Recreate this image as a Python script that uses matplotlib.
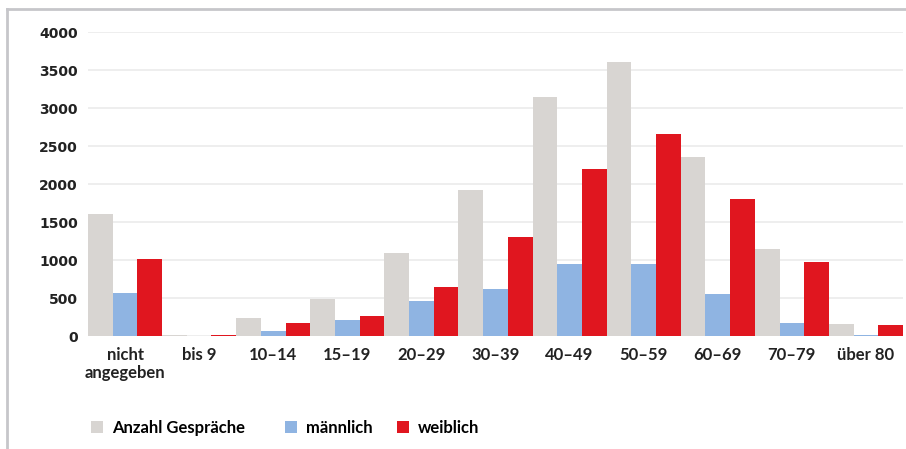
import numpy as np
from matplotlib import pyplot as plt
from matplotlib.lines import Line2D
from matplotlib.patches import Patch

# age groups and counts
categories = ["nicht\nangegeben", "bis 9", "10–14", "15–19", "20–29", "30–39",
              "40–49", "50–59", "60–69", "70–79", "über 80"]
anzahl = [1610, 10, 238, 485, 1094, 1920, 3150, 3610, 2355, 1147, 160]
maennlich = [572, 3, 70, 212, 463, 617, 952, 952, 556, 176, 10]
weiblich = [1015, 18, 168, 268, 639, 1305, 2200, 2655, 1805, 979, 150]

series = [("Anzahl Gespräche", anzahl, "#d8d5d2"),
          ("männlich", maennlich, "#8fb4e2"),
          ("weiblich", weiblich, "#e0161f")]

fig = plt.figure(figsize=(9.06, 4.49), dpi=100)
ax = fig.add_axes([88 / 906, 1 - 336 / 449, 815 / 906, (336 - 32) / 449])

x = np.arange(len(categories))
w = 1 / 3
for i, (name, vals, col) in enumerate(series):
    ax.bar(x - 0.5 + w * (i + 0.5), vals, width=w, color=col, zorder=2, label=name)

ax.set_xlim(-0.5, len(categories) - 0.5)
ax.set_ylim(0, 4000)
ax.set_yticks(range(0, 4001, 500))
ax.grid(axis="y", color="#ebebeb", linewidth=1.2, zorder=0)
ax.set_axisbelow(True)
for s in ax.spines.values():
    s.set_visible(False)

ax.set_xticks(x)
ax.set_xticklabels(categories, fontfamily="Lato", fontweight="bold", fontsize=12,
                   color="#222222", linespacing=1.15)
for lab in ax.get_yticklabels():
    lab.set_fontfamily("DejaVu Sans")
    lab.set_fontweight("bold")
    lab.set_fontsize(10)
    lab.set_color("#222222")
ax.tick_params(axis="both", length=0)
ax.tick_params(axis="y", pad=7.2)
ax.tick_params(axis="x", pad=8)

# frame lines of the original graphic
fig.add_artist(Line2D([7 / 906, 1], [1 - 9 / 449, 1 - 9 / 449], color="#c6c6ca",
                      linewidth=2, transform=fig.transFigure))
fig.add_artist(Line2D([7 / 906, 7 / 906], [0, 1 - 9 / 449], color="#c6c6ca",
                      linewidth=2, transform=fig.transFigure))

# legend entries placed one by one (spacing in the original is uneven)
legend_x = [88, 282, 394]
for (name, _, col), lx in zip(series, legend_x):
    fig.legend([Patch(facecolor=col, edgecolor="none")], [name], loc="center left",
               bbox_to_anchor=(lx / 906, 1 - 428 / 449), frameon=False,
               borderpad=0, borderaxespad=0.2,
               handlelength=0.68, handleheight=0.68, handletextpad=0.55,
               prop={"family": "Lato", "weight": "bold", "size": 12})

fig.savefig("out.png", dpi=100)
